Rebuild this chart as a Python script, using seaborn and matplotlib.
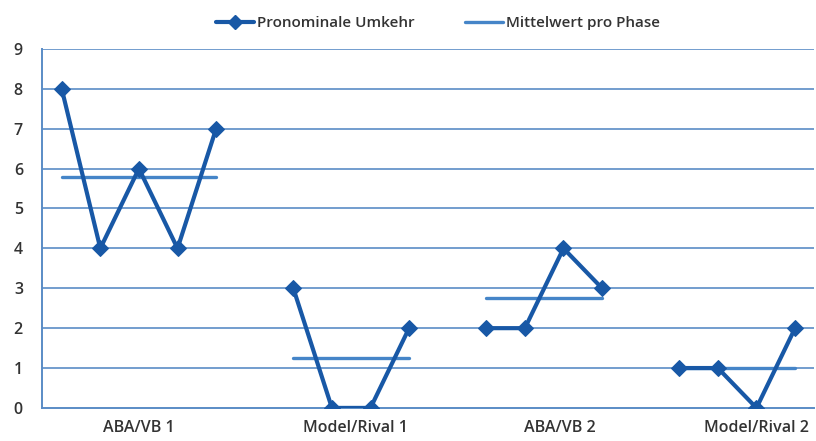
import numpy as np
import pandas as pd
import matplotlib
matplotlib.use("Agg")
import matplotlib.pyplot as plt
from matplotlib.lines import Line2D
import seaborn as sns

# Session values per phase
phase_names = ["ABA/VB 1", "Model/Rival 1", "ABA/VB 2", "Model/Rival 2"]
phase1 = [8, 4, 6, 4, 7]
phase2 = [3, 0, 0, 2]
phase3 = [2, 2, 4, 3]
phase4 = [1, 1, 0, 2]
phase_values = [phase1, phase2, phase3, phase4]

# Category axis labels and where they sit along the category axis
label_slots = [2.0, 7.6, 12.9, 18.0]
y_ticks = list(range(0, 10))

series_name = "Pronominale Umkehr"
mean_name = "Mittelwert pro Phase"

line_color = "#1858a6"
mean_color = "#4585c8"
grid_color = "#5a8cc6"
text_color = "#333333"

# Lay the sessions out on consecutive category slots, one empty slot between phases
rows = []
slot = 0
for name, vals in zip(phase_names, phase_values):
    for v in vals:
        rows.append({"slot": slot, "value": v, "phase": name})
        slot += 1
    slot += 1
df = pd.DataFrame(rows)
n_slots = slot - 1

mean_rows = []
for name, grp in df.groupby("phase", sort=False):
    m = grp["value"].mean()
    mean_rows.append({"slot": grp["slot"].min(), "value": m, "phase": name})
    mean_rows.append({"slot": grp["slot"].max(), "value": m, "phase": name})
mdf = pd.DataFrame(mean_rows)

sns.set_theme(style="white")
plt.rcParams["font.family"] = ["Open Sans", "DejaVu Sans"]
plt.rcParams["font.weight"] = "semibold"

fig = plt.figure(figsize=(8.16, 4.41), dpi=100)
ax = fig.add_axes([0.052, 0.075, 0.946, 0.814])

ax.set_ylim(0, 9)
ax.set_xlim(-0.5, n_slots - 0.5)
for y in y_ticks[1:]:
    ax.axhline(y, color=grid_color, lw=1.2, zorder=0)

sns.lineplot(data=mdf, x="slot", y="value", units="phase", estimator=None,
             color=mean_color, lw=2.4, ax=ax, legend=False, zorder=2)
sns.lineplot(data=df, x="slot", y="value", units="phase", estimator=None,
             color=line_color, lw=3.0, marker="D", markersize=8,
             markeredgecolor=line_color, ax=ax, legend=False, zorder=3)

ax.set_yticks(y_ticks)
ax.set_yticklabels([str(v) for v in y_ticks])
ax.set_xticks(np.arange(-0.5, n_slots, 1.0))
ax.set_xticklabels([])
ax.set_xticks(label_slots, minor=True)
ax.set_xticklabels(phase_names, minor=True)
ax.tick_params(axis="x", which="minor", length=0, pad=9)
ax.tick_params(axis="both", which="major", length=5, width=1.2,
               color=grid_color, direction="out")
ax.tick_params(axis="y", pad=9)
ax.tick_params(axis="both", labelsize=11.5, labelcolor=text_color)
ax.tick_params(axis="x", which="minor", labelsize=11.5, labelcolor=text_color)
ax.set_xlabel("")
ax.set_ylabel("")

for side in ["top", "right"]:
    ax.spines[side].set_visible(False)
for side in ["left", "bottom"]:
    ax.spines[side].set_color(grid_color)
    ax.spines[side].set_linewidth(1.4)

handles = [
    Line2D([0], [0], color=line_color, lw=3.0, marker="D", markersize=7),
    Line2D([0], [0], color=mean_color, lw=2.4),
]
fig.legend(handles, [series_name, mean_name], loc="center",
           bbox_to_anchor=(0.537, 0.948), ncol=2, frameon=False,
           fontsize=11, handlelength=2.5, handletextpad=0.2,
           columnspacing=3.3, labelcolor=text_color)

fig.savefig("out.png", dpi=100)
